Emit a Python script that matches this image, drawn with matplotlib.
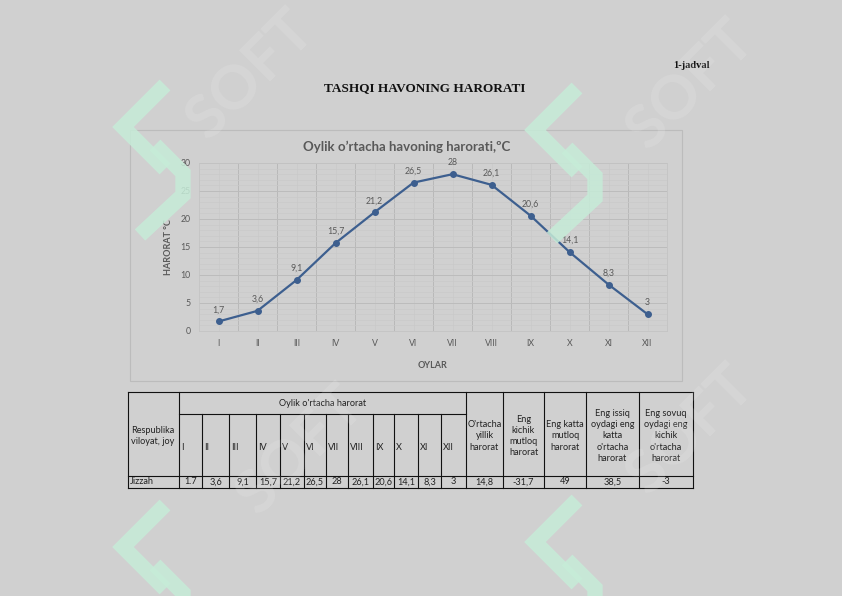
import matplotlib
matplotlib.use("Agg")
import matplotlib.pyplot as plt
from matplotlib.patches import Rectangle
from matplotlib.lines import Line2D
from matplotlib.ticker import MultipleLocator

# data
months = ["I", "II", "III", "IV", "V", "VI", "VII", "VIII", "IX", "X", "XI", "XII"]
temps = [1.7, 3.6, 9.1, 15.7, 21.2, 26.5, 28, 26.1, 20.6, 14.1, 8.3, 3]
place = "Jizzah"
table_month_vals = ["1.7", "3,6", "9,1", "15,7", "21,2", "26,5", "28", "26,1", "20,6", "14,1", "8,3", "3"]
extra_heads = ["O'rtacha\nyillik\nharorat", "Eng\nkichik\nmutloq\nharorat", "Eng katta\nmutloq\nharorat",
               "Eng issiq\noydagi eng\nkatta\no'rtacha\nharorat", "Eng sovuq\noydagi eng\nkichik\no'rtacha\nharorat"]
extra_vals = ["14,8", "-31,7", "49", "38,5", "-3"]

W, H = 842, 596
BG = "#d0d0d0"
TXT = "#595959"
LINE = "#3d5f8f"

plt.rcParams["font.family"] = ["Lato", "DejaVu Sans"]

fig = plt.figure(figsize=(W / 100, H / 100), dpi=100, facecolor=BG)


def fx(x):
    return x / W


def fy(y):
    return 1 - y / H


# page headings
fig.text(fx(710), fy(65), "1-jadval", ha="right", va="center", fontsize=7.5,
         fontweight="bold", family="Liberation Serif", color="#111111")
fig.text(fx(425), fy(88), "TASHQI HAVONING HARORATI", ha="center", va="center", fontsize=9.5,
         fontweight="bold", family="Liberation Serif", color="#111111")

# chart frame
fig.patches.append(Rectangle((fx(130), fy(381)), fx(552), 251 / H, transform=fig.transFigure,
                             facecolor="none", edgecolor="#bcbcbc", lw=0.8, zorder=-1))
fig.text(fx(407), fy(147), "Oylik o\u2019rtacha havoning harorati,\u00baC", ha="center", va="center",
         fontsize=9.5, fontweight="bold", color=TXT)

ax = fig.add_axes([fx(199), fy(331), fx(468), 168 / H])
ax.set_facecolor(BG)
x = list(range(len(months)))
ax.plot(x, temps, color=LINE, lw=1.6, marker="o", ms=4, zorder=3)
for xi, t in zip(x, temps):
    lab = f"{t:g}".replace(".", ",")
    ax.annotate(lab, (xi, t), xytext=(0, 5), textcoords="offset points", ha="center",
                va="bottom", fontsize=6.3, color=TXT)
ax.set_xlim(-0.5, len(months) - 0.5)
ax.set_ylim(0, 30)
ax.set_xticks(x)
ax.set_xticklabels(months)
ax.yaxis.set_major_locator(MultipleLocator(5))
ax.yaxis.set_minor_locator(MultipleLocator(1))
ax.set_xticks([i + 0.5 for i in x[:-1]], minor=True)
ax.grid(which="major", axis="y", color="#bcbcbc", lw=0.7)
ax.grid(which="minor", axis="y", color="#c9c9c9", lw=0.5)
ax.grid(which="minor", axis="x", color="#b9b9b9", lw=0.7)
ax.grid(which="major", axis="x", color="#c9c9c9", lw=0.5)
ax.set_axisbelow(True)
ax.tick_params(which="both", length=0, labelsize=6.3, labelcolor=TXT)
ax.tick_params(axis="y", pad=6)
ax.tick_params(axis="x", pad=6)
for s in ax.spines.values():
    s.set_color("#c4c4c4")
    s.set_linewidth(0.6)
ax.set_ylabel("HARORAT \u00b0C", fontsize=6.5, fontweight="bold", color=TXT, labelpad=5)
ax.set_xlabel("OYLAR", fontsize=6.5, fontweight="bold", color=TXT, labelpad=9)

# table
tx = fig.add_axes([0, 0, 1, 1], facecolor="none")
tx.set_xlim(0, W)
tx.set_ylim(H, 0)
tx.axis("off")
cols = [128, 179, 202, 229, 256, 280, 304, 326, 348, 373, 394, 418, 441, 466, 503, 544, 586, 639, 693]
y_top, y_mid, y_row, y_bot = 392, 414, 476, 488
lk = dict(color="#111111", lw=0.8)
tx.add_line(Line2D([cols[0], cols[-1]], [y_top, y_top], **lk))
tx.add_line(Line2D([cols[0], cols[-1]], [y_row, y_row], **lk))
tx.add_line(Line2D([cols[0], cols[-1]], [y_bot, y_bot], **lk))
tx.add_line(Line2D([cols[1], cols[13]], [y_mid, y_mid], **lk))
for i, c in enumerate(cols):
    top = y_mid if 2 <= i <= 12 else y_top
    tx.add_line(Line2D([c, c], [top, y_bot], **lk))

fs = 6.6
tc = "#222222"
tx.text(cols[0] + 3, (y_top + y_row) / 2 + 2, "Respublika\nviloyat, joy", ha="left", va="center",
        fontsize=fs, color=tc, linespacing=1.35)
tx.text((cols[1] + cols[13]) / 2, (y_top + y_mid) / 2, "Oylik o'rtacha harorat", ha="center",
        va="center", fontsize=fs, color=tc)
for i, m in enumerate(months):
    tx.text(cols[1 + i] + 2, (y_mid + y_row) / 2 + 2, m, ha="left", va="center", fontsize=fs, color=tc)
    tx.text((cols[1 + i] + cols[2 + i]) / 2, (y_row + y_bot) / 2, table_month_vals[i], ha="center",
            va="center", fontsize=fs, color=tc)
for j, (h, v) in enumerate(zip(extra_heads, extra_vals)):
    cx = (cols[13 + j] + cols[14 + j]) / 2
    tx.text(cx, (y_top + y_row) / 2 + 2, h, ha="center", va="center", fontsize=fs, color=tc,
            linespacing=1.3)
    tx.text(cx, (y_row + y_bot) / 2, v, ha="center", va="center", fontsize=fs, color=tc)
tx.text(cols[0] + 2, (y_row + y_bot) / 2, place, ha="left", va="center", fontsize=fs, color=tc)

# watermarks
wm = fig.add_axes([0, 0, 1, 1], facecolor="none", zorder=5)
wm.set_xlim(0, W)
wm.set_ylim(H, 0)
wm.axis("off")
for (ox, oy) in [(250, 75), (690, 85), (300, 450), (690, 430)]:
    wm.text(ox, oy, "SOFT", rotation=45, ha="center", va="center", fontsize=44, fontweight="bold",
            color="white", alpha=0.13)
logo = [[(50, 0), (8, 42), (50, 84)], [(40, 60), (68, 88), (68, 110), (25, 150)]]
for (ox, oy) in [(115, 85), (527, 88), (115, 505), (527, 500)]:
    for stroke in logo:
        wm.add_line(Line2D([ox + p[0] for p in stroke], [oy + p[1] for p in stroke], color="#c6ecd8",
                           lw=11, alpha=0.85, solid_joinstyle="miter", solid_capstyle="butt"))

fig.savefig("out.png", dpi=100, facecolor=BG)
